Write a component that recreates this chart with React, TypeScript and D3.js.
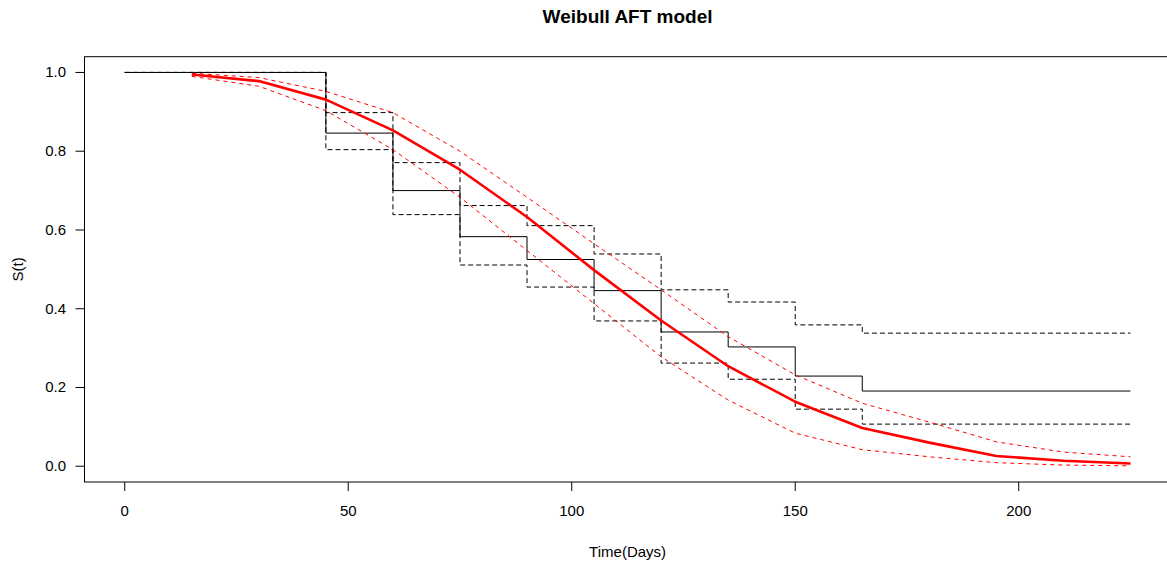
import React from "react";
import * as d3 from "d3";

const kmTimes = [0, 45, 60, 75, 90, 105, 120, 135, 150, 165];
const kmEnd = 225;
const kmSurv = [1, 0.846, 0.7, 0.583, 0.525, 0.446, 0.341, 0.303, 0.229, 0.191];
const kmUpper = [1, 0.898, 0.771, 0.662, 0.611, 0.539, 0.448, 0.417, 0.359, 0.338];
const kmLower = [1, 0.804, 0.639, 0.511, 0.455, 0.369, 0.262, 0.221, 0.145, 0.107];

const fitTimes = [15, 30, 45, 60, 75, 90, 105, 120, 135, 150, 165, 180, 195, 210, 225];
const fitSurv = [0.995, 0.978, 0.931, 0.853, 0.753, 0.633, 0.498, 0.37, 0.254, 0.164, 0.097, 0.06, 0.026, 0.014, 0.007];
const fitUpper = [0.998, 0.987, 0.952, 0.898, 0.8, 0.683, 0.565, 0.448, 0.329, 0.232, 0.16, 0.112, 0.062, 0.036, 0.024];
const fitLower = [0.99, 0.965, 0.903, 0.804, 0.683, 0.548, 0.413, 0.278, 0.168, 0.084, 0.042, 0.024, 0.009, 0.003, 0.001];

const xTicks = [0, 50, 100, 150, 200];
const yTicks = [0, 0.2, 0.4, 0.6, 0.8, 1.0];

const W = 1167;
const H = 569;
const box = { left: 84.5, right: 1170.7, top: 56.7, bottom: 482 };

export default function App() {
  const x = d3.scaleLinear().domain([-9, 234]).range([box.left, box.right]);
  const y = d3.scaleLinear().domain([-0.04, 1.04]).range([box.bottom, box.top]);

  const stepPath = (vals: number[]) => {
    const pts: [number, number][] = kmTimes.map((t, i) => [t, vals[i]]);
    pts.push([kmEnd, vals[vals.length - 1]]);
    const line = d3
      .line<[number, number]>()
      .x((d) => x(d[0]))
      .y((d) => y(d[1]))
      .curve(d3.curveStepAfter);
    return line(pts) || "";
  };

  const fitPath = (vals: number[]) => {
    const line = d3
      .line<number>()
      .x((_, i) => x(fitTimes[i]))
      .y((d) => y(d));
    return line(vals) || "";
  };

  const font = "Liberation Sans, Arial, Helvetica, sans-serif";

  return (
    <svg
      width={W}
      height={H}
      style={{ position: "absolute", left: 0, top: 0, background: "#fff" }}
      fontFamily={font}
    >
      <rect x={0} y={0} width={W} height={H} fill="#fff" />
      <text x={627.6} y={23} textAnchor="middle" fontSize={19} fontWeight="bold" fill="#000">
        Weibull AFT model
      </text>

      {/* KM curve and CI */}
      <path d={stepPath(kmSurv)} fill="none" stroke="#000" strokeWidth={1} />
      <path d={stepPath(kmUpper)} fill="none" stroke="#000" strokeWidth={1} strokeDasharray="5,3" />
      <path d={stepPath(kmLower)} fill="none" stroke="#000" strokeWidth={1} strokeDasharray="5,3" />

      {/* Weibull fit */}
      <path d={fitPath(fitUpper)} fill="none" stroke="#ff0000" strokeWidth={1} strokeDasharray="4,4" />
      <path d={fitPath(fitLower)} fill="none" stroke="#ff0000" strokeWidth={1} strokeDasharray="4,4" />
      <path d={fitPath(fitSurv)} fill="none" stroke="#ff0000" strokeWidth={2.6} strokeLinejoin="round" />

      {/* box */}
      <rect
        x={box.left}
        y={box.top}
        width={box.right - box.left}
        height={box.bottom - box.top}
        fill="none"
        stroke="#000"
        strokeWidth={1}
      />

      {/* x axis */}
      {xTicks.map((t) => (
        <g key={"x" + t}>
          <line x1={x(t)} x2={x(t)} y1={box.bottom} y2={box.bottom + 9} stroke="#000" strokeWidth={1} />
          <text x={x(t)} y={516} textAnchor="middle" fontSize={15} fill="#000">
            {t}
          </text>
        </g>
      ))}
      {/* y axis */}
      {yTicks.map((t) => (
        <g key={"y" + t}>
          <line x1={box.left} x2={box.left - 9} y1={y(t)} y2={y(t)} stroke="#000" strokeWidth={1} />
          <text x={66} y={y(t) + 5} textAnchor="end" fontSize={15} fill="#000">
            {t.toFixed(1)}
          </text>
        </g>
      ))}

      <text x={627.6} y={557} textAnchor="middle" fontSize={15} fill="#000">
        Time(Days)
      </text>
      <text
        transform={`translate(23, ${(box.top + box.bottom) / 2}) rotate(-90)`}
        textAnchor="middle"
        fontSize={15}
        fill="#000"
      >
        S(t)
      </text>
    </svg>
  );
}
